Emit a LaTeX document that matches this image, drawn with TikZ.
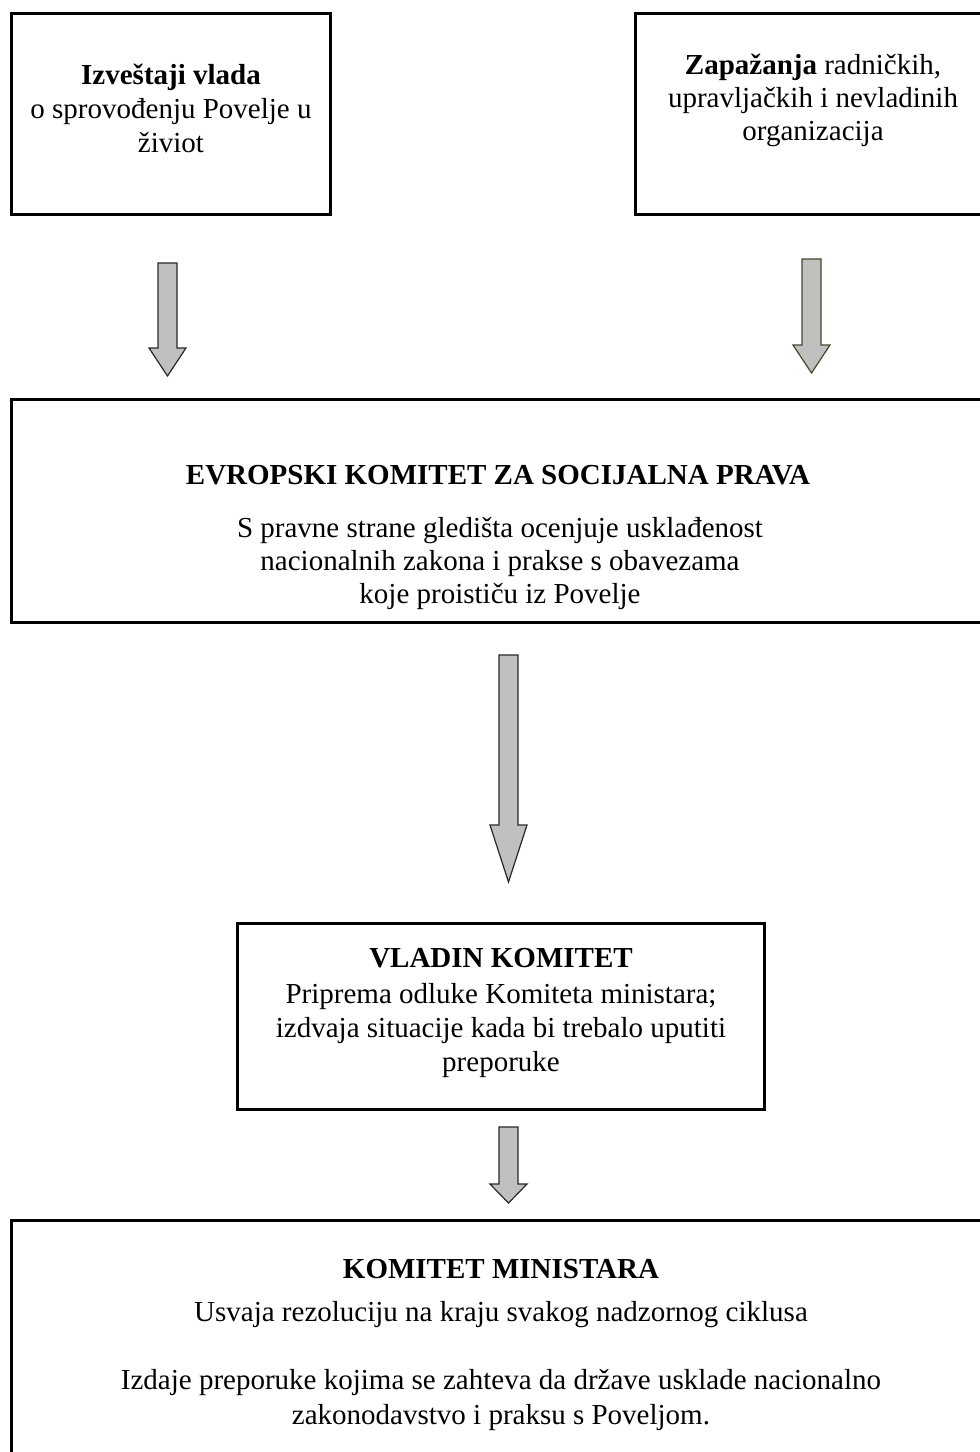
\documentclass[tikz,border=0pt]{standalone}
\usepackage{fontspec}
\setmainfont{Liberation Serif}
\definecolor{arrowfill}{RGB}{192,192,192}
\definecolor{arrowedge}{RGB}{40,40,40}
\definecolor{oliveedge}{RGB}{70,70,40}
\begin{document}
\begin{tikzpicture}[x=1pt,y=-1pt,
  box/.style={draw=black, line width=3pt, rectangle, inner sep=0pt},
  txt/.style={anchor=base, inner sep=0pt, font=\fontsize{29}{34}\selectfont},
  btxt/.style={txt, font=\fontsize{29}{34}\selectfont\bfseries},
  blockarrow/.style={fill=arrowfill, draw=arrowedge, line width=1.2pt, line join=miter}
]
\useasboundingbox (0,0) rectangle (980,1452);
\fill[white] (0,0) rectangle (980,1452);

% boxes
\node[box, minimum width=319pt, minimum height=201pt] (gov) at (171,114) {};
\node[box, minimum width=355pt, minimum height=201pt] (obs) at (812.5,114) {};
\node[box, minimum width=978.5pt, minimum height=223pt] (ecsr) at (500.75,511) {};
\node[box, minimum width=527pt, minimum height=186pt] (gc) at (501,1016.5) {};
\node[box, minimum width=978.5pt, minimum height=249.5pt] (cm) at (500.75,1345.25) {};

% texts box 1
\node[btxt] (gov1) at (171,84) {Izveštaji vlada};
\node[txt] (gov2) at (171,118) {o sprovođenju Povelje u};
\node[txt] (gov3) at (171,152) {živiot};

% texts box 2
\node[txt] (obs1) at (813,74) {\textbf{Zapažanja} radničkih,};
\node[txt] (obs2) at (813,107) {upravljačkih i nevladinih};
\node[txt] (obs3) at (813,140) {organizacija};

% texts middle box
\node[btxt] (ecsr1) at (498,484) {EVROPSKI KOMITET ZA SOCIJALNA PRAVA};
\node[txt] (ecsr2) at (500,537) {S pravne strane gledišta ocenjuje usklađenost};
\node[txt] (ecsr3) at (500,570) {nacionalnih zakona i prakse s obavezama};
\node[txt] (ecsr4) at (500,603) {koje proističu iz Povelje};

% texts governmental committee
\node[btxt] (gc1) at (501,967) {VLADIN KOMITET};
\node[txt] (gc2) at (501,1003) {Priprema odluke Komiteta ministara;};
\node[txt] (gc3) at (501,1037) {izdvaja situacije kada bi trebalo uputiti};
\node[txt] (gc4) at (501,1071) {preporuke};

% texts committee of ministers
\node[btxt] (cm1) at (501,1278) {KOMITET MINISTARA};
\node[txt] (cm2) at (501,1321) {Usvaja rezoluciju na kraju svakog nadzornog ciklusa};
\node[txt] (cm3) at (501,1389) {Izdaje preporuke kojima se zahteva da države usklade nacionalno};
\node[txt] (cm4) at (501,1424) {zakonodavstvo i praksu s Poveljom.};

% block arrows
\draw[blockarrow] (158,263) -- (177,263) -- (177,348) -- (186,348) -- (167.5,376)
  -- (149,348) -- (158,348) -- cycle;
\draw[blockarrow, draw=oliveedge] (802,259) -- (821,259) -- (821,345) -- (830,345) -- (811.5,373)
  -- (793,345) -- (802,345) -- cycle;
\draw[blockarrow] (499,655) -- (518,655) -- (518,825) -- (527,825) -- (508.5,882)
  -- (490,825) -- (499,825) -- cycle;
\draw[blockarrow] (499,1127) -- (518,1127) -- (518,1184) -- (527,1184) -- (508.5,1203)
  -- (490,1184) -- (499,1184) -- cycle;
\end{tikzpicture}
\end{document}
